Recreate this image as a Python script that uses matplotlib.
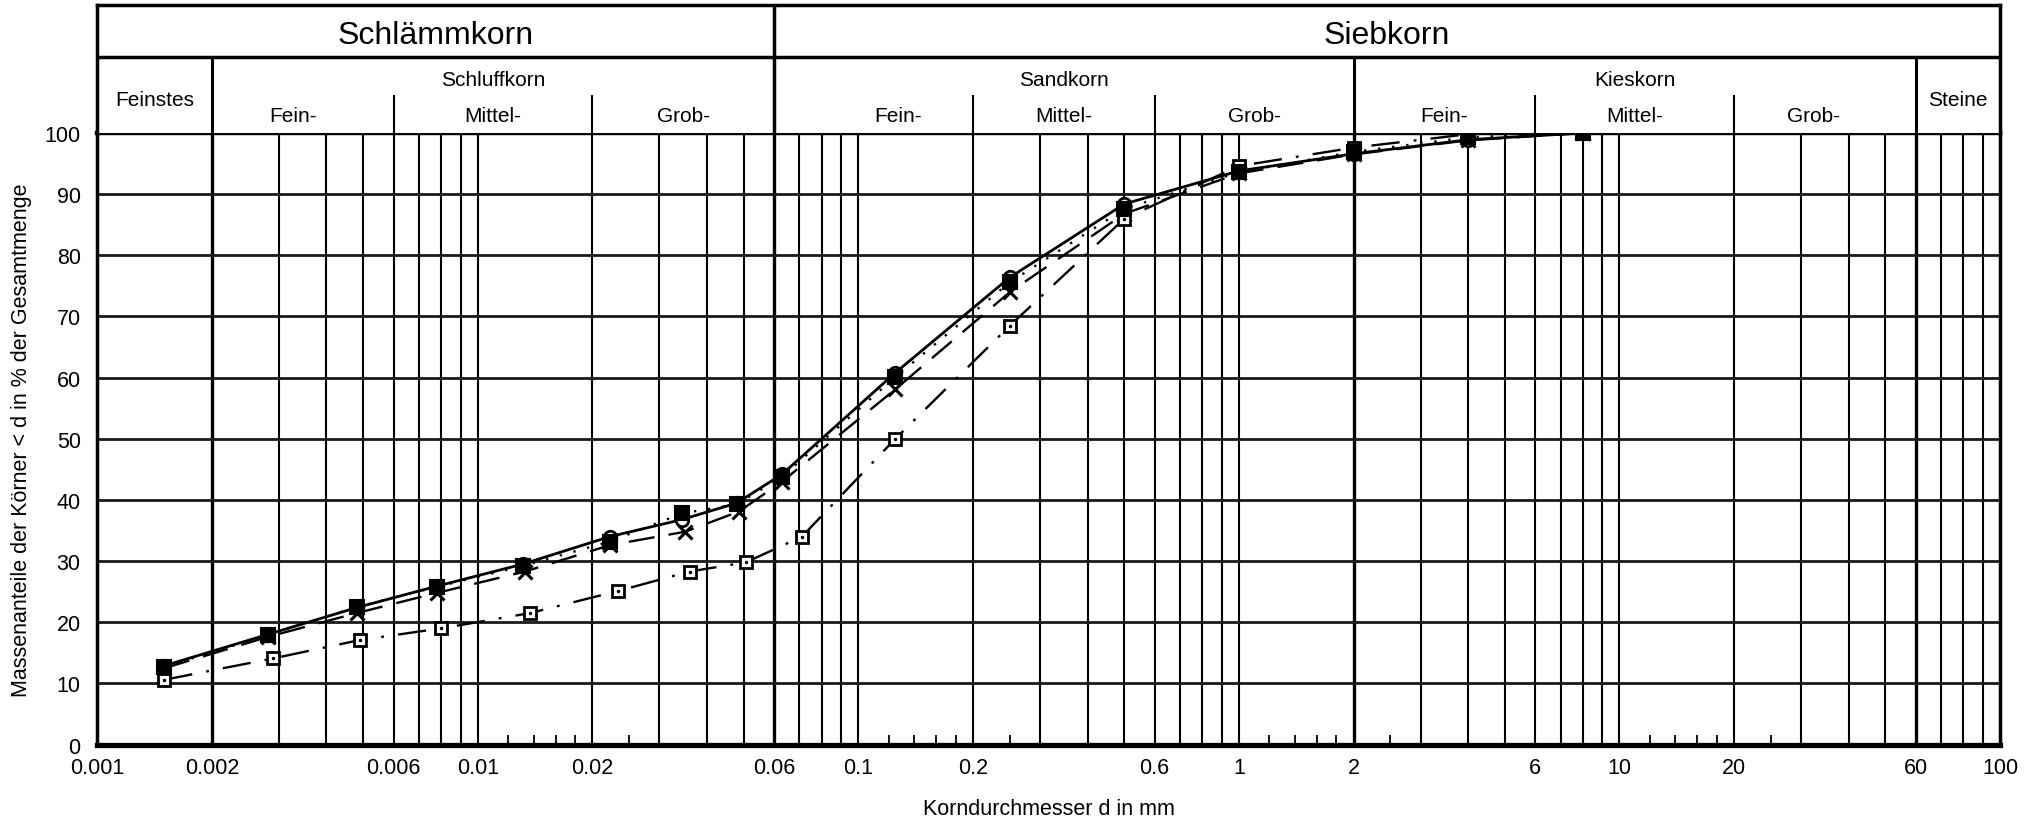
import numpy as np
import matplotlib.pyplot as plt
from matplotlib.ticker import NullLocator

plt.rcParams['font.family'] = ['Liberation Sans', 'DejaVu Sans']

# grain size curves: diameter d in mm, passing in %
probe_a_d = [0.0015, 0.0028, 0.0048, 0.0078, 0.0131, 0.0222, 0.0344, 0.0479, 0.063, 0.125, 0.25, 0.5, 1, 2, 4, 8]
probe_a_p = [12.9, 18.0, 22.4, 25.9, 29.5, 34.0, 36.8, 39.5, 44.2, 60.8, 76.4, 88.4, 93.8, 96.6, 98.9, 100]

probe_b_d = [0.0015, 0.0028, 0.0048, 0.0078, 0.0131, 0.0222, 0.0344, 0.0479, 0.063, 0.125, 0.25, 0.5, 1, 2, 4, 8]
probe_b_p = [12.7, 17.9, 22.5, 25.8, 29.2, 33.2, 37.8, 39.3, 43.8, 60.1, 75.6, 87.6, 93.6, 96.9, 99.3, 100]

probe_c_d = [0.0015, 0.0028, 0.0048, 0.0078, 0.0133, 0.0222, 0.0350, 0.0485, 0.063, 0.125, 0.25, 0.5, 1, 2, 4, 8]
probe_c_p = [12.5, 17.6, 21.5, 24.8, 28.3, 32.6, 34.8, 38.1, 43.0, 58.1, 74.0, 86.8, 93.4, 96.5, 98.8, 100]

probe_d_d = [0.0015, 0.0029, 0.0049, 0.0080, 0.0137, 0.0233, 0.0360, 0.0506, 0.071, 0.125, 0.25, 0.5, 1, 2, 4, 8]
probe_d_p = [10.6, 14.1, 17.1, 19.0, 21.5, 25.1, 28.3, 29.8, 34.0, 50.0, 68.5, 86.0, 94.6, 97.6, 99.8, 100]

x_tick_values = [0.001, 0.002, 0.006, 0.01, 0.02, 0.06, 0.1, 0.2, 0.6, 1, 2, 6, 10, 20, 60, 100]
x_tick_labels = ['0.001', '0.002', '0.006', '0.01', '0.02', '0.06', '0.1', '0.2', '0.6', '1', '2', '6', '10', '20', '60', '100']

# header texts and their x position in mm
main_groups = [('Schlämmkorn', np.sqrt(0.001 * 0.06)), ('Siebkorn', np.sqrt(0.06 * 100))]
sub_groups = [('Schluffkorn', np.sqrt(0.002 * 0.06)), ('Sandkorn', np.sqrt(0.06 * 2)), ('Kieskorn', np.sqrt(2 * 60))]
side_groups = [('Feinstes', np.sqrt(0.001 * 0.002)), ('Steine', np.sqrt(60 * 100))]
fractions = ['Fein-', 'Mittel-', 'Grob-', 'Fein-', 'Mittel-', 'Grob-', 'Fein-', 'Mittel-', 'Grob-']
fraction_x = [0.00327, np.sqrt(0.006 * 0.02), np.sqrt(0.02 * 0.06),
              0.127, np.sqrt(0.2 * 0.6), np.sqrt(0.6 * 2),
              np.sqrt(2 * 6), np.sqrt(6 * 20), 32.3]

W, H = 2037, 820
fig = plt.figure(figsize=(W / 100, H / 100), dpi=100)
left, right, top_data, bottom = 97.4, 2000, 134, 745.6
ax = fig.add_axes([left / W, (H - bottom) / H, (right - left) / W, (bottom - top_data) / H])
hax = fig.add_axes([left / W, (H - top_data) / H, (right - left) / W, (top_data - 6) / H])

for a in (ax, hax):
    a.set_xscale('log')
    a.set_xlim(0.001, 100)
    a.xaxis.set_minor_locator(NullLocator())

# vertical grid
grid_x = [m * 10.0 ** k for k in range(-3, 2) for m in range(2, 11)]
thick = [0.002, 0.06, 2, 60]
for gx in grid_x:
    if gx >= 100:
        continue
    lw = 2.4 if any(np.isclose(gx, t) for t in thick) else 1.5
    ax.axvline(gx, color='black', lw=lw, zorder=1)
for base in [0.01, 0.1, 1, 10]:
    for m in [1.2, 1.4, 1.6, 1.8, 2.5]:
        ax.vlines(base * m, 0, 1.6, color='black', lw=1.3, zorder=1)
for gy in range(10, 100, 10):
    ax.axhline(gy, color='#1a1a1a', lw=2.0, zorder=1)

# curves
ax.plot(probe_a_d, probe_a_p, color='black', lw=2.0, ls='-', marker='o', ms=9,
        mfc='white', mec='black', mew=2.0, zorder=3)
ax.plot(probe_b_d, probe_b_p, color='black', lw=1.7, ls=(0, (1, 5)), marker='s', ms=9.5,
        mfc='black', mec='black', mew=1.5, zorder=4)
ax.plot(probe_c_d, probe_c_p, color='black', lw=1.7, ls=(0, (11, 6)), marker='x', ms=10,
        mec='black', mew=2.2, zorder=3)
ax.plot(probe_d_d, probe_d_p, color='black', lw=1.7, ls=(0, (12, 6, 1.2, 6)), marker='s', ms=9,
        mfc='white', mec='black', mew=2.0, zorder=3)
ax.plot(probe_d_d, probe_d_p, ls='none', marker='.', ms=3, color='black', zorder=4)

ax.set_ylim(0, 100)
ax.set_yticks(range(0, 101, 10))
ax.set_xticks(x_tick_values)
ax.set_xticklabels(x_tick_labels)
ax.tick_params(axis='both', length=0, labelsize=15.5)
ax.tick_params(axis='y', pad=12)
ax.tick_params(axis='x', pad=9)
for s, lw in zip(['left', 'right', 'top', 'bottom'], [2.5, 2.5, 3.2, 3.8]):
    ax.spines[s].set_linewidth(lw)
ax.set_xlabel('Korndurchmesser d in mm', fontsize=15.5, labelpad=14)
ax.set_ylabel('Massenanteile der Körner < d in % der Gesamtmenge', fontsize=15.5, labelpad=9)

# header table, y in pixel rows
hax.set_ylim(top_data, 6)
hax.set_yticks([])
hax.set_xticks([])
for s in ['left', 'right', 'top']:
    hax.spines[s].set_linewidth(2.5)
hax.spines['bottom'].set_visible(False)
hax.axhline(58, color='black', lw=2.5)
hax.vlines(0.06, 6, top_data, color='black', lw=2.5)
hax.vlines([0.002, 2, 60], 58, top_data, color='black', lw=2.2)
hax.vlines([0.006, 0.02, 0.2, 0.6, 6, 20], 96, top_data, color='black', lw=1.5)

for txt, xm in main_groups:
    hax.text(xm, 36, txt, ha='center', va='center', fontsize=23)
for txt, xm in sub_groups:
    hax.text(xm, 81, txt, ha='center', va='center', fontsize=15)
for txt, xm in side_groups:
    hax.text(xm, 100, txt, ha='center', va='center', fontsize=15)
for txt, xm in zip(fractions, fraction_x):
    hax.text(xm, 117, txt, ha='center', va='center', fontsize=15)

fig.savefig('out.png', dpi=100)
